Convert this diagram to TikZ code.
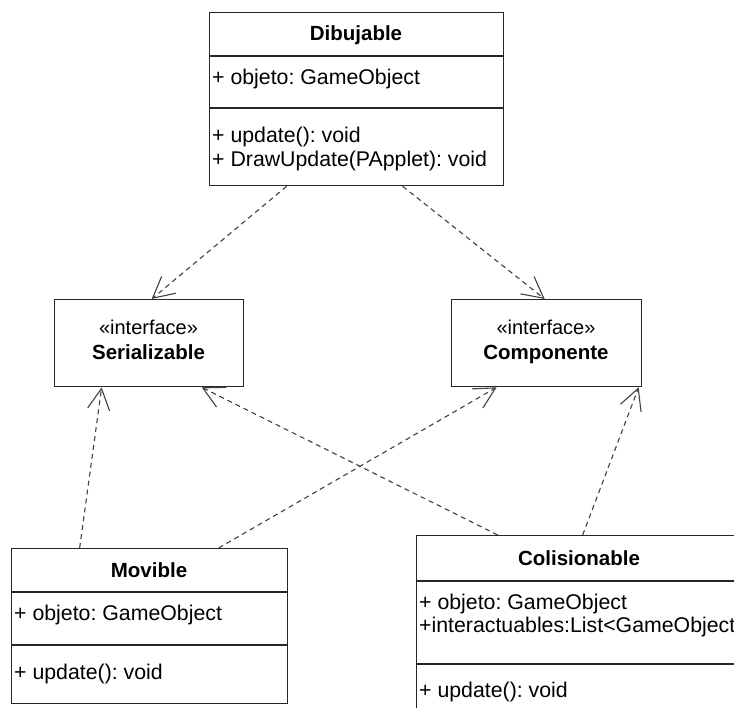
\documentclass[tikz,border=0pt]{standalone}
\usepackage{fontspec}
\setmainfont{Liberation Sans}
\usetikzlibrary{arrows.meta}
\frenchspacing
\begin{document}
\begin{tikzpicture}[x=1pt,y=-1pt,
  box/.style={draw=black!85,line width=1.3pt,rectangle,inner sep=0pt,anchor=north west},
  sep/.style={draw=black!85,line width=1.3pt},
  ttl/.style={anchor=base,inner sep=0pt,font=\fontsize{20.5}{24}\selectfont\bfseries},
  ster/.style={anchor=base,inner sep=0pt,font=\fontsize{20}{24}\selectfont},
  txt/.style={anchor=base west,inner sep=0pt,font=\fontsize{21.3}{24}\selectfont},
  dep/.style={draw=black!75,line width=1.1pt,dash pattern=on 5pt off 4pt,
    -{Straight Barb[length=21pt,width=22pt,line width=1.1pt]}}
]
\useasboundingbox (0,0) rectangle (734,708);
\clip (0,0) rectangle (734,708);

% Dibujable
\node[box,minimum width=294pt,minimum height=173pt] (dib) at (209,12) {};
\draw[sep] (209,56) -- (503,56);
\draw[sep] (209,108) -- (503,108);
\node[ttl] (dibt) at (356,41) {Dibujable};
\node[txt] (diba) at (212,85) {+ objeto: GameObject};
\node[txt] (dibm1) at (212,143) {+ update(): void};
\node[txt] (dibm2) at (212,167) {+ DrawUpdate(PApplet): void};

% Serializable
\node[box,minimum width=189pt,minimum height=87pt] (ser) at (54,299) {};
\node[ster] (sers) at (148.5,335) {«interface»};
\node[ttl] (sert) at (148.5,360) {Serializable};

% Componente
\node[box,minimum width=190pt,minimum height=87pt] (comp) at (451,299) {};
\node[ster] (comps) at (546,335) {«interface»};
\node[ttl] (compt) at (546,360) {Componente};

% Movible
\node[box,minimum width=276pt,minimum height=155pt] (mov) at (11,548) {};
\draw[sep] (11,592) -- (287,592);
\draw[sep] (11,645) -- (287,645);
\node[ttl] (movt) at (149,577) {Movible};
\node[txt] (mova) at (14,620) {+ objeto: GameObject};
\node[txt] (movm) at (14,679) {+ update(): void};

% Colisionable
\node[box,minimum width=326pt,minimum height=220pt] (col) at (416,535) {};
\draw[sep] (416,581) -- (742,581);
\draw[sep] (416,664) -- (742,664);
\node[ttl] (colt) at (579,565) {Colisionable};
\node[txt] (cola1) at (419,609) {+ objeto: GameObject};
\node[txt] (cola2) at (419,632) {+interactuables:List<GameObject};
\node[txt] (colm) at (419,697) {+ update(): void};

% dependencies
\draw[dep] ([xshift=-70pt]dib.south) -- ([xshift=2.5pt]ser.north);
\draw[dep] ([xshift=46pt]dib.south) -- ([xshift=-2pt]comp.north);
\draw[dep] ([xshift=-70pt]mov.north) -- ([xshift=-47.5pt]ser.south);
\draw[dep] ([xshift=69pt]mov.north) -- ([xshift=-50pt]comp.south);
\draw[dep] ([xshift=-82pt]col.north) -- ([xshift=52.5pt]ser.south);
\draw[dep] ([xshift=3pt]col.north) -- ([xshift=92pt]comp.south);
\end{tikzpicture}
\end{document}
